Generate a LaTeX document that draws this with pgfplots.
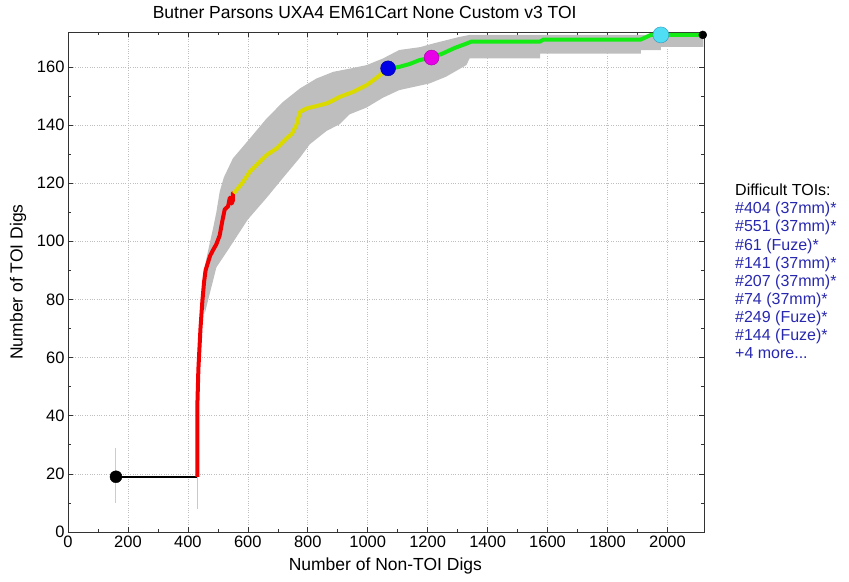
\documentclass[border=0pt]{standalone}
\usepackage{fontspec}
\setmainfont{Liberation Sans}
\usepackage{pgfplots}
\pgfplotsset{compat=1.18}
\definecolor{bandgray}{RGB}{190,190,190}
\definecolor{cred}{RGB}{240,0,0}
\definecolor{cyellow}{RGB}{218,218,0}
\definecolor{cgreen}{RGB}{20,235,20}
\definecolor{tblue}{RGB}{40,40,175}
\definecolor{ccyan}{RGB}{80,222,245}
\definecolor{ccyanedge}{RGB}{50,150,190}
\definecolor{cblue}{RGB}{0,0,230}
\definecolor{cblueedge}{RGB}{0,0,140}
\definecolor{cmag}{RGB}{232,0,232}
\definecolor{cmagedge}{RGB}{160,0,160}
\begin{document}
\begin{tikzpicture}
\useasboundingbox (-68bp,-50bp) rectangle (781bp,532bp);
\begin{axis}[
  at={(0,0)}, anchor=south west,
  scale only axis, width=636bp, height=500bp,
  xmin=0, xmax=2122, ymin=0, ymax=172,
  xtick={0,200,...,2000}, ytick={0,20,...,160},
  minor x tick num=1, minor y tick num=1,
  tick align=inside,
  xtick pos=both, ytick pos=both,
  major tick length=5bp, minor tick length=3bp,
  grid=major, grid style={dotted, gray!50, line width=0.6bp},
  axis line style={black!80, line width=0.9bp},
  tick style={black!80, line width=0.6bp},
  ticklabel style={font=\fontsize{16.5bp}{18bp}\selectfont},
  /pgf/number format/assume math mode=true,
  /pgf/number format/1000 sep={},
  xlabel={Number of Non-TOI Digs},
  ylabel={Number of TOI Digs},
  label style={font=\fontsize{17.5bp}{20bp}\selectfont},
  xlabel style={at={(axis description cs:0.499,-0.068)}, anchor=center},
  ylabel style={at={(axis description cs:-0.0786,0.5)}, anchor=center},
  title={Butner Parsons UXA4 EM61Cart None Custom v3 TOI},
  title style={at={(axis description cs:0.4665,1.028)}, anchor=center, font=\fontsize{17.5bp}{20bp}\selectfont},
  clip=false,
]
% confidence band
\addplot[fill=bandgray, draw=none] coordinates {
(456,75) (452,80) (455,90.7) (470,98) (484,104.5) (495,110) (506,117) (520,122)
(550,128.5) (607,135.4) (663,142.3) (718,148) (774,152.6) (829,156) (885,158.3)
(940,159.4) (996,160.6) (1051,162.9) (1105,165.8) (1175,166.8) (1217,168) (1306,170.3) (1340,171)
(2120,171)
(2120,166.9) (1978,166.9) (1978,165.8) (1911,165.8) (1911,164.6) (1575,164.6) (1575,162.9)
(1340,162.9) (1329,160.6) (1261,156.6) (1206,154.3) (1105,152) (1051,149.4) (996,146)
(940,143.7) (907,140.3) (863,138) (807,133.4) (774,128.8) (718,121.9) (663,115)
(600,107.5) (540,98) (495,91) (473,82) (456,75)
} -- cycle;
% faint error bars
\addplot[gray!40, line width=1bp] coordinates {(160,10) (160,29)};
\addplot[red!30, line width=1bp] coordinates {(432,8) (432,19)};
% black segment
\addplot[black, line width=2bp] coordinates {(160,19) (432,19)};
% red segment
\addplot[cred, line width=4bp, line join=round] coordinates {
(432,19) (432,45) (435,56) (442,70) (448,79) (454,86) (459,90) (468,93) (474,95)
(484,97) (495,99) (506,102) (515,107) (523,111) (534,112) (540,115) (546,113)
(550,114) (550,116.5) (553,116.5)
};
% yellow segment
\addplot[cyellow, line width=4bp, line join=round] coordinates {
(553,116.5) (581,120) (607,124) (636,127) (663,129.7) (697,132) (729,135.4) (747,137)
(762,140) (774,144.5) (796,145.7) (828,146.5) (863,147.4) (885,148.5) (907,149.7)
(951,151.4) (996,153.7) (1020,155.5) (1040,157.1) (1068,159.3)
};
% green segment
\addplot[cgreen, line width=4bp, line join=round] coordinates {
(1068,159.3) (1105,160) (1140,161) (1172,162.3) (1213,163.2) (1250,164.6) (1290,166.5)
(1329,168) (1346,168.7) (1575,168.7) (1586,169.4) (1911,169.4) (1930,170.3) (1945,171)
(2120,171)
};
% markers
\addplot[only marks, mark=*, mark size=6bp, mark options={fill=black, draw=black}] coordinates {(160,19)};
\addplot[only marks, mark=*, mark size=4bp, mark options={fill=black, draw=black}] coordinates {(2118,171)};
\addplot[only marks, mark=*, mark size=7.5bp, mark options={fill=cblue, draw=cblueedge}] coordinates {(1068,159.5)};
\addplot[only marks, mark=*, mark size=7.5bp, mark options={fill=cmag, draw=cmagedge}] coordinates {(1213,163.2)};
\addplot[only marks, mark=*, mark size=8bp, mark options={fill=ccyan, draw=ccyanedge}] coordinates {(1978,171)};
% difficult TOIs annotation
\node[anchor=north west, align=left, inner sep=0pt, font=\fontsize{16bp}{18.1bp}\selectfont]
  at (rel axis cs:1,1) [xshift=31bp, yshift=-152bp]
  {Difficult TOIs:\\
   \textcolor{tblue}{\#404 (37mm)*}\\
   \textcolor{tblue}{\#551 (37mm)*}\\
   \textcolor{tblue}{\#61 (Fuze)*}\\
   \textcolor{tblue}{\#141 (37mm)*}\\
   \textcolor{tblue}{\#207 (37mm)*}\\
   \textcolor{tblue}{\#74 (37mm)*}\\
   \textcolor{tblue}{\#249 (Fuze)*}\\
   \textcolor{tblue}{\#144 (Fuze)*}\\
   \textcolor{tblue}{+4 more...}};
\end{axis}
\end{tikzpicture}
\end{document}
